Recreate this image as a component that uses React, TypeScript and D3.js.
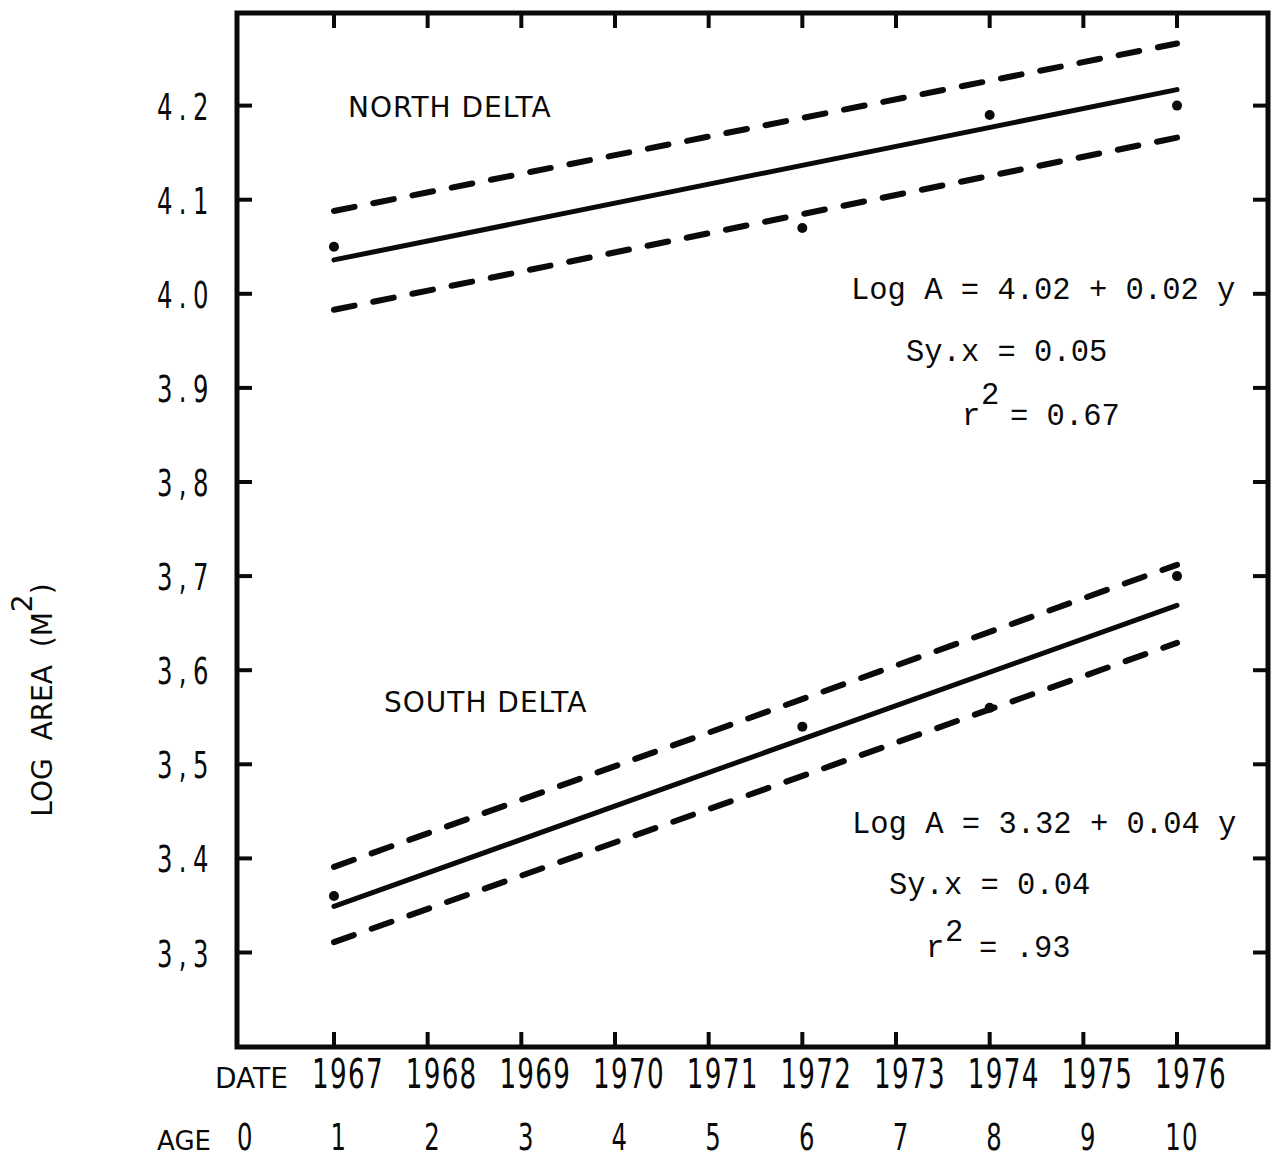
import React from "react";
import * as d3 from "d3";

// ---- data ----
const years = [1967, 1968, 1969, 1970, 1971, 1972, 1973, 1974, 1975, 1976];
const ages = [0, 1, 2, 3, 4, 5, 6, 7, 8, 9, 10];
const yTicks = [4.2, 4.1, 4.0, 3.9, 3.8, 3.7, 3.6, 3.5, 3.4, 3.3];
const yTickLabels = ["4.2", "4.1", "4.0", "3.9", "3,8", "3,7", "3,6", "3,5", "3.4", "3,3"];

const northAges = [1, 6, 8, 10];
const northValues = [4.05, 4.07, 4.19, 4.2];
const southAges = [1, 6, 8, 10];
const southValues = [3.36, 3.54, 3.56, 3.7];

const fitAges = [1, 10];
const northFit = [4.036, 4.217];
const northUpper = [4.088, 4.266];
const northLower = [3.983, 4.166];
const southFit = [3.349, 3.669];
const southUpper = [3.391, 3.712];
const southLower = [3.311, 3.629];

const W = 1273;
const H = 1160;
const frame = { left: 237, top: 13, right: 1268, bottom: 1047 };

export default function App() {
  const x = d3.scaleLinear().domain([0, 11]).range([240.3, 1270.7]);
  const y = d3.scaleLinear().domain([3.2, 4.3]).range([1046.6, 11.5]);

  const line = d3
    .line<[number, number]>()
    .x((d) => x(d[0]))
    .y((d) => y(d[1]));

  const mk = (vals: number[]) => line(fitAges.map((a, i) => [a, vals[i]] as [number, number])) || "";

  const tickLen = 15;
  const sans = "DejaVu Sans, sans-serif";
  const courier = "Liberation Mono, Courier New, monospace";
  const ink = "#0a0a0a";
  const sx = 0.64;

  const dashed = { fill: "none", stroke: ink, strokeWidth: 6, strokeLinecap: "round" as const, strokeDasharray: "21 19" };
  const solid = { fill: "none", stroke: ink, strokeWidth: 5, strokeLinecap: "round" as const };

  return (
    <svg
      width={W}
      height={H}
      viewBox={`0 0 ${W} ${H}`}
      style={{ position: "absolute", left: 0, top: 0, background: "#fff" }}
    >
      <rect x={0} y={0} width={W} height={H} fill="#fff" />

      {/* frame */}
      <rect
        x={frame.left}
        y={frame.top}
        width={frame.right - frame.left}
        height={frame.bottom - frame.top}
        fill="none"
        stroke={ink}
        strokeWidth={5}
      />

      {/* x ticks bottom & top */}
      {years.map((yr) => {
        const px = x(yr - 1966);
        return (
          <g key={"xt" + yr} stroke={ink} strokeWidth={4}>
            <line x1={px} x2={px} y1={frame.bottom} y2={frame.bottom - tickLen} />
            <line x1={px} x2={px} y1={frame.top} y2={frame.top + tickLen} />
          </g>
        );
      })}

      {/* y ticks left & right */}
      {yTicks.map((v) => {
        const py = y(v);
        return (
          <g key={"yt" + v} stroke={ink} strokeWidth={4}>
            <line x1={frame.left} x2={frame.left + tickLen} y1={py} y2={py} />
            <line x1={frame.right} x2={frame.right - tickLen} y1={py} y2={py} />
          </g>
        );
      })}

      {/* y tick labels */}
      {yTicks.map((v, i) => (
        <text
          key={"yl" + v}
          transform={`translate(157,${y(v) + 14}) scale(${sx},1)`}
          textAnchor="start"
          fontFamily={sans}
          fontSize={38}
          letterSpacing={10}
          fill={ink}
        >
          {yTickLabels[i]}
        </text>
      ))}

      {/* year labels */}
      <text x={215} y={1088} fontFamily={sans} fontSize={28} fill={ink}>
        DATE
      </text>
      {years.map((yr) => (
        <text
          key={"yr" + yr}
          transform={`translate(${x(yr - 1966) + 14},1088) scale(${sx},1)`}
          textAnchor="middle"
          fontFamily={sans}
          fontSize={41}
          letterSpacing={2}
          fill={ink}
        >
          {String(yr)}
        </text>
      ))}

      {/* age labels */}
      <text x={211} y={1150} textAnchor="end" fontFamily={sans} fontSize={26} fill={ink}>
        AGE
      </text>
      {ages.map((a) => (
        <text
          key={"age" + a}
          transform={`translate(${x(a) + 5},1150) scale(${sx},1)`}
          textAnchor="middle"
          fontFamily={sans}
          fontSize={38}
          letterSpacing={2}
          fill={ink}
        >
          {String(a)}
        </text>
      ))}

      {/* y axis title */}
      <text
        transform="translate(52,700) rotate(-90)"
        textAnchor="middle"
        fontFamily={sans}
        fontSize={28}
        fill={ink}
        style={{ whiteSpace: "pre" }}
      >
        {"LOG  AREA  (M"}
        <tspan dy={-20}>2</tspan>
        <tspan dy={20}>)</tspan>
      </text>

      {/* regression lines */}
      <path d={mk(northUpper)} {...dashed} />
      <path d={mk(northFit)} {...solid} />
      <path d={mk(northLower)} {...dashed} />
      <path d={mk(southUpper)} {...dashed} />
      <path d={mk(southFit)} {...solid} />
      <path d={mk(southLower)} {...dashed} />

      {/* points */}
      {northAges.map((a, i) => (
        <circle key={"n" + a} cx={x(a)} cy={y(northValues[i])} r={5} fill={ink} />
      ))}
      {southAges.map((a, i) => (
        <circle key={"s" + a} cx={x(a)} cy={y(southValues[i])} r={5} fill={ink} />
      ))}

      {/* region labels */}
      <text x={348} y={117} fontFamily={sans} fontSize={28} letterSpacing={1} fill={ink}>
        NORTH DELTA
      </text>
      <text x={384} y={712} fontFamily={sans} fontSize={28} letterSpacing={1} fill={ink}>
        SOUTH DELTA
      </text>

      {/* equations */}
      <g fontFamily={courier} fontSize={30.5} fill={ink}>
        <text x={851} y={299}>Log A = 4.02 + 0.02 y</text>
        <text x={906} y={361}>Sy.x = 0.05</text>
        <text x={962} y={425}>r</text>
        <text x={981} y={404}>2</text>
        <text x={1010} y={425}>= 0.67</text>

        <text x={852} y={833}>Log A = 3.32 + 0.04 y</text>
        <text x={889} y={894}>Sy.x = 0.04</text>
        <text x={926} y={957}>r</text>
        <text x={945} y={941}>2</text>
        <text x={979} y={957}>= .93</text>
      </g>
    </svg>
  );
}
